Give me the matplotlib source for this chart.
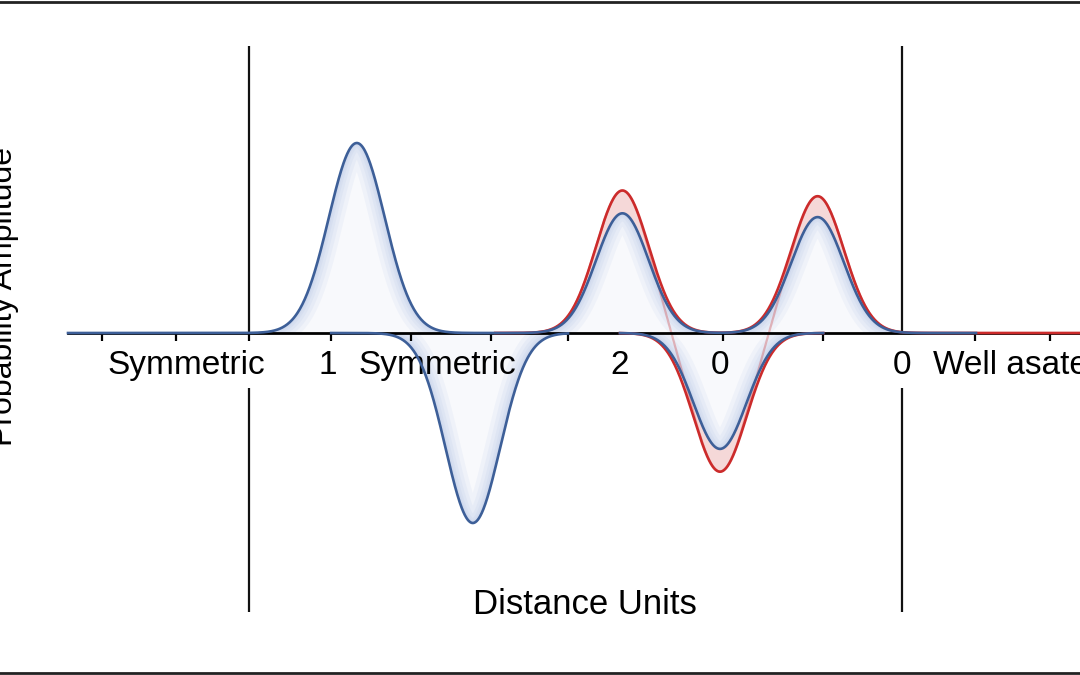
import numpy as np
import matplotlib
matplotlib.use('Agg')
import matplotlib.pyplot as plt

plt.rcParams['font.family'] = ['Liberation Sans', 'DejaVu Sans']

# Данные: центры, ширины и амплитуды пиков (единицы расстояния)
left_peak = (4.46, 0.35, 1.00)
left_trough = (5.91, 0.34, -1.00)
pair_centers = [7.78, 9.00, 10.22]
pair_sigma = 0.33
red_amps = [0.75, -0.73, 0.72]
blue_amps = [0.63, -0.61, 0.61]

well_edges = [3.11, 11.275]
minor_ticks = [1.275, 2.2, 3.11, 4.14, 5.14, 6.14, 7.1, 7.75, 9.04, 10.29, 11.275, 12.19, 13.125]
label_pos = [2.33, 4.1, 5.47, 7.75, 9.0, 11.275, 12.74]
label_text = ['Symmetric', '1', 'Symmetric', '2', '0', '0', 'Well asated']

blue = '#3d5f98'
red = '#cc2b2b'
glow = '#7d9ad6'


def gauss(x, c, s, a):
    return a * np.exp(-(x - c) ** 2 / (2 * s ** 2))


def shade(ax, x, y):
    # светлая заливка с подсветкой у края
    poly = ax.fill_between(x, 0, y, color=glow, alpha=0.05, lw=0, zorder=1)
    for w in [22, 16, 11, 7, 4]:
        ln, = ax.plot(x, y, color=glow, lw=w, alpha=0.07, zorder=1, solid_capstyle='butt')
        ln.set_clip_path(poly.get_paths()[0], ax.transData)


fig = plt.figure(figsize=(10.8, 6.75), dpi=100)
ax = fig.add_axes([0, 0, 1, 1])
ax.set_xlim(0, 13.5)
ax.set_ylim(-1.8, 333 / 190)

# верхняя синяя кривая
xb = np.linspace(0.85, 12.2, 1500)
blue_up = gauss(xb, *left_peak) + gauss(xb, pair_centers[0], pair_sigma, blue_amps[0]) \
    + gauss(xb, pair_centers[2], pair_sigma, blue_amps[2])

# красная кривая
xr = np.linspace(6.19, 13.5, 1200)
red_up = gauss(xr, pair_centers[0], pair_sigma, red_amps[0]) + gauss(xr, pair_centers[2], pair_sigma, red_amps[2])
red_signed = sum(gauss(xr, c, pair_sigma, a) for c, a in zip(pair_centers, red_amps))
blue_up_r = gauss(xr, pair_centers[0], pair_sigma, blue_amps[0]) + gauss(xr, pair_centers[2], pair_sigma, blue_amps[2])

# нижние куски
xl = np.linspace(4.14, 7.1, 600)
blue_low_l = gauss(xl, *left_trough)
xm = np.linspace(7.75, 10.29, 600)
red_low = gauss(xm, pair_centers[1], pair_sigma, red_amps[1])
blue_low = gauss(xm, pair_centers[1], pair_sigma, blue_amps[1])

# заливки
ax.fill_between(xr, blue_up_r, red_up, color=red, alpha=0.18, lw=0, zorder=1)
ax.fill_between(xm, blue_low, red_low, color=red, alpha=0.18, lw=0, zorder=1)
shade(ax, xb, blue_up)
shade(ax, xl, blue_low_l)
shade(ax, xm, blue_low)

ax.plot(xr, red_signed, color=red, lw=1.6, alpha=0.3, zorder=2)
ax.plot(xr, red_up, color=red, lw=1.9, zorder=3)
ax.plot(xm, red_low, color=red, lw=1.9, zorder=3)
ax.plot(xb, blue_up, color=blue, lw=1.9, zorder=4)
ax.plot(xl, blue_low_l, color=blue, lw=1.9, zorder=4)
ax.plot(xm, blue_low, color=blue, lw=1.9, zorder=4)

# стенки ямы
ax.vlines(well_edges, 0, 287 / 190, color='#111111', lw=1.6, zorder=2)
ax.vlines(well_edges, -55 / 190, -279 / 190, color='#111111', lw=1.6, zorder=2)

for side in ['left', 'right', 'top']:
    ax.spines[side].set_visible(False)
ax.spines['bottom'].set_position(('data', 0))
ax.spines['bottom'].set_bounds(0.85, 13.5)
ax.spines['bottom'].set_linewidth(2.0)
ax.spines['bottom'].set_zorder(2)
ax.set_yticks([])
ax.set_xticks(minor_ticks, minor=True)
ax.set_xticks(label_pos)
ax.set_xticklabels(label_text, fontsize=24)
ax.tick_params(axis='x', which='major', length=0, pad=12)
ax.tick_params(axis='x', which='minor', length=6, width=1.6, direction='out')

fig.text(585 / 1080, 1 - 604 / 675, 'Distance Units', fontsize=25, ha='center', va='center')
fig.text(19 / 1080, 1 - 297 / 675, 'Probability Amplitude', fontsize=23, ha='right', va='center', rotation=90)

# рамка сверху и снизу
fig.add_artist(plt.Line2D([0, 1], [1 - 1.5 / 675, 1 - 1.5 / 675], color='#222222', lw=2))
fig.add_artist(plt.Line2D([0, 1], [1 - 673 / 675, 1 - 673 / 675], color='#222222', lw=2))

fig.savefig('out.png', dpi=100)
